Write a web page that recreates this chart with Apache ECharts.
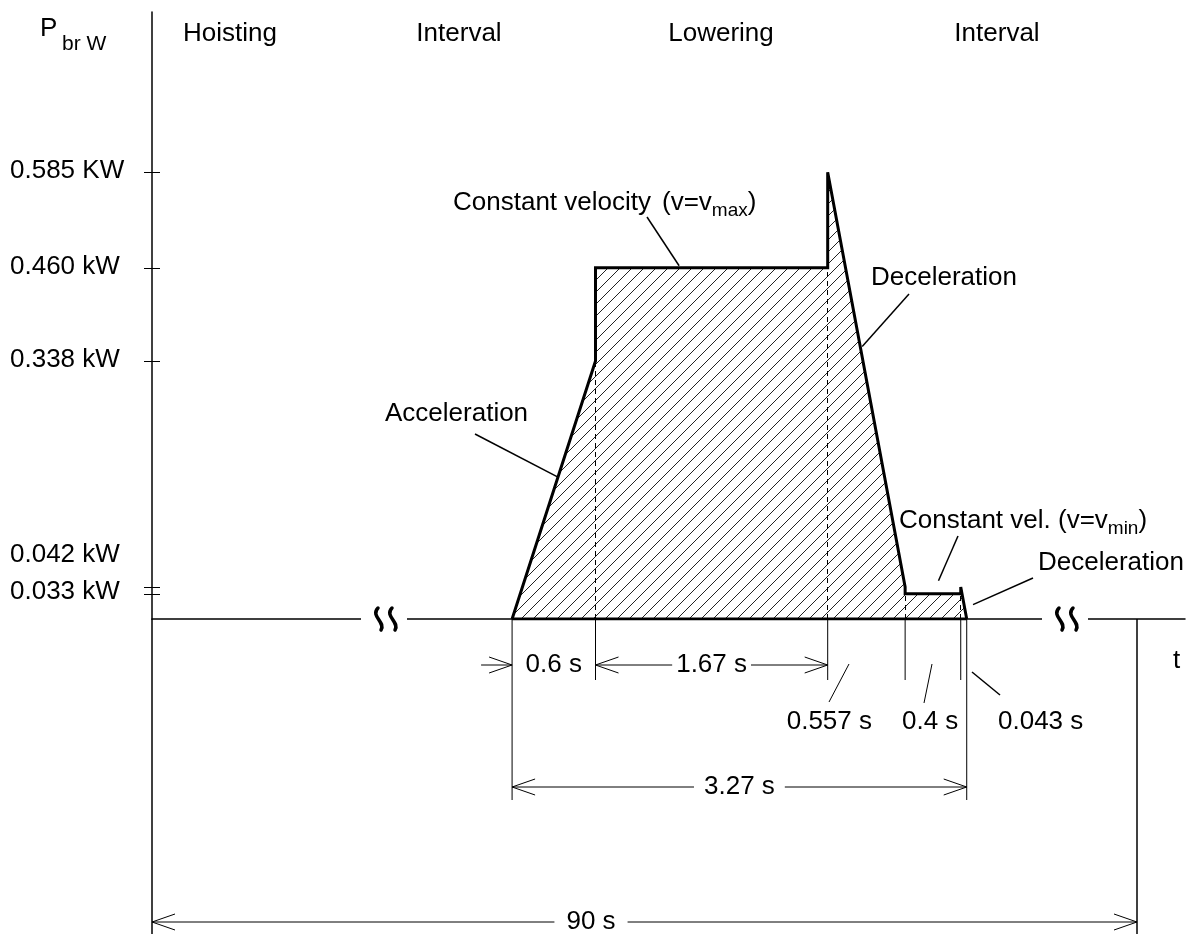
<!DOCTYPE html>
<html><head><meta charset="utf-8">
<script src="https://cdn.jsdelivr.net/npm/echarts@6/dist/echarts.min.js"></script>
<style>html,body{margin:0;padding:0;background:#fff}#c{width:1189px;height:934px}</style>
</head><body><div id="c"></div>
<script>
// ---------- data ----------
const phaseLabels = ['Hoisting', 'Interval', 'Lowering', 'Interval'];
const segmentNames = ['Acceleration', 'Constant velocity', 'Deceleration', 'Constant vel.', 'Deceleration'];
const segmentDurations = [0.6, 1.67, 0.557, 0.4, 0.043];      // s
const segmentStartPower = [0, 0.460, 0.585, 0.033, 0.042];    // kW
const segmentEndPower = [0.338, 0.460, 0.042, 0.033, 0];      // kW
const durationLabels = ['0.6 s', '1.67 s', '0.557 s', '0.4 s', '0.043 s'];
const loweringTotalLabel = '3.27 s';
const cycleLabel = '90 s';
const yTickValues = [0.585, 0.460, 0.338, 0.042, 0.033];
const yTickLabels = ['0.585 KW', '0.460 kW', '0.338 kW', '0.042 kW', '0.033 kW'];

// ---------- derived ----------
const bounds = [0];
segmentDurations.forEach(d => bounds.push(+(bounds[bounds.length - 1] + d).toFixed(4)));
const profile = [];
segmentDurations.forEach((d, i) => {
  profile.push([bounds[i], segmentStartPower[i]]);
  profile.push([bounds[i + 1], segmentEndPower[i]]);
});
const dashed = [];
for (let i = 1; i < segmentDurations.length; i++) {
  dashed.push([{ coord: [bounds[i], 0] }, { coord: [bounds[i], Math.min(segmentEndPower[i - 1], segmentStartPower[i])] }]);
}

function hatch() {
  const s = 12, c = document.createElement('canvas');
  c.width = c.height = s;
  const g = c.getContext('2d');
  g.strokeStyle = '#222'; g.lineWidth = 1;
  g.beginPath();
  g.moveTo(0, s); g.lineTo(s, 0);
  g.moveTo(-s / 2, s / 2); g.lineTo(s / 2, -s / 2);
  g.moveTo(s / 2, s * 1.5); g.lineTo(s * 1.5, s / 2);
  g.stroke();
  return c;
}

const FONT = '"Liberation Sans", Arial, sans-serif';
const chart = echarts.init(document.getElementById('c'), null, { renderer: 'canvas' });
chart.setOption({
  animation: false,
  backgroundColor: '#fff',
  grid: { left: 152, right: 4, top: 12, bottom: 315 },
  xAxis: {
    type: 'value', min: -2.59, max: 4.84,
    axisLine: { show: true, onZero: false, lineStyle: { color: '#000', width: 1.5 } },
    axisTick: { show: false }, axisLabel: { show: false }, splitLine: { show: false }
  },
  yAxis: [{
    type: 'value', min: 0, max: 0.795,
    axisLine: { show: true, onZero: false, lineStyle: { color: '#000', width: 1.5 } },
    axisTick: { show: true, customValues: yTickValues, length: 8, lineStyle: { color: '#000', width: 1 } },
    axisLabel: { show: false }, splitLine: { show: false }
  }, {
    type: 'value', min: 0, max: 0.795, position: 'left',
    axisLine: { show: false, onZero: false },
    axisTick: { show: true, inside: true, customValues: yTickValues, length: 8, lineStyle: { color: '#000', width: 1 } },
    axisLabel: { show: false }, splitLine: { show: false }
  }],
  series: [{
    name: 'Braking power', type: 'line', data: profile, symbol: 'none', z: 3,
    lineStyle: { color: '#000', width: 3, join: 'miter' },
    areaStyle: { color: { image: hatch(), repeat: 'repeat' }, opacity: 1 }
  }, {
    name: 'base', type: 'line', data: [[bounds[0], 0], [bounds[bounds.length - 1], 0]], symbol: 'none', z: 4,
    lineStyle: { color: '#000', width: 3 },
    markLine: {
      silent: true, symbol: ['none', 'none'], label: { show: false },
      lineStyle: { color: '#000', width: 1, type: [5, 4] }, data: dashed
    }
  }]
});

// ---------- annotations ----------
const px = (t, p) => chart.convertToPixel({ gridIndex: 0 }, [t, p]);
const bx = bounds.map(b => px(b, 0)[0]);
const y0 = px(0, 0)[1];
const mctx = document.createElement('canvas').getContext('2d');
const tw = (s, size) => { mctx.font = size + 'px ' + FONT; return mctx.measureText(s).width; };
const G = [];
const line = (x1, y1, x2, y2, w = 1) => G.push({ type: 'line', z: 100, shape: { x1, y1, x2, y2 }, style: { stroke: '#000', lineWidth: w } });
const text = (s, x, y, size = 26, align = 'left') => G.push({ type: 'text', z: 100, x, y, style: { text: s, font: size + 'px ' + FONT, fill: '#000', align, verticalAlign: 'middle' } });
const arrow = (x, y, dir) => G.push({ type: 'polyline', z: 100, shape: { points: [[x - dir * 23, y - 8], [x, y], [x - dir * 23, y + 8]] }, style: { stroke: '#000', lineWidth: 1, fill: null } });
const segPt = (i, f) => px(bounds[i] + f * segmentDurations[i], segmentStartPower[i] + f * (segmentEndPower[i] - segmentStartPower[i]));

// axis breaks
[385, 1066].forEach(cx => {
  G.push({ type: 'rect', z: 100, shape: { x: cx - 24, y: y0 - 4, width: 46, height: 8 }, style: { fill: '#fff' } });
  [-6, 8].forEach(dx => {
    const x = cx + dx;
    G.push({ type: 'bezierCurve', z: 101, shape: { x1: x - 1, y1: y0 - 11, cpx1: x - 9, cpy1: y0 - 3, cpx2: x + 7, cpy2: y0 + 3, x2: x + 2, y2: y0 + 11 }, style: { stroke: '#000', lineWidth: 3.5, fill: null, lineCap: 'round' } });
  });
});
// axis extensions / end of cycle
line(152, y0, 152, 934, 1.5);
line(1137, y0, 1137, 934, 1.5);
text('t', 1173, 661);

// header
const headerX = [230, 459, 721, 997];
phaseLabels.forEach((s, i) => text(s, headerX[i], 34, 26, 'center'));
text('P', 40, 29);
text('br W', 62, 44, 21);

// y tick labels
const labelDy = [-2, -1, -1, -32, -2];
yTickValues.forEach((v, i) => text(yTickLabels[i], 10, px(0, v)[1] + labelDy[i]));

// segment annotations
text(segmentNames[0], 385, 414);
let p = segPt(0, 0.55); line(475, 434, p[0], p[1], 1.5);

text(segmentNames[1], 453, 203);
let x = 662; text('(v=v', x, 203); x += tw('(v=v', 26);
text('max', x, 211, 19); x += tw('max', 19); text(')', x, 203);
p = segPt(1, 0.36); line(647, 217, p[0], p[1] - 2, 1.5);

text(segmentNames[2], 871, 278);
p = segPt(2, 0.42); line(909, 294, p[0] + 2, p[1], 1.5);

x = 899; text(segmentNames[3] + ' (v=v', x, 521); x += tw(segmentNames[3] + ' (v=v', 26);
text('min', x, 529, 19); x += tw('min', 19); text(')', x, 521);
p = segPt(3, 0.6); line(958, 536, p[0], p[1] - 13, 1.5);

text(segmentNames[4], 1038, 563);
p = segPt(4, 0.55); line(1033, 578, p[0] + 9, p[1], 1.5);

// dimensions
const d1 = 665, d2 = 787, d3 = 922;
[1, 2, 3, 4].forEach(i => line(bx[i], y0, bx[i], 680, 1));
[0, 5].forEach(i => line(bx[i], y0, bx[i], 800, 1));
// 0.6 s
line(bx[0] - 31, d1, bx[0], d1); arrow(bx[0], d1, 1);
text(durationLabels[0], (bx[0] + bx[1]) / 2, d1, 26, 'center');
// 1.67 s
let mid = (bx[1] + bx[2]) / 2, w = tw(durationLabels[1], 26) / 2 + 4;
arrow(bx[1], d1, -1); line(bx[1], d1, mid - w, d1); line(mid + w, d1, bx[2], d1); arrow(bx[2], d1, 1);
text(durationLabels[1], mid, d1, 26, 'center');
// 0.557, 0.4, 0.043 s with leaders
text(durationLabels[2], 872, 722, 26, 'right'); line(849, 664, 829, 702, 1);
text(durationLabels[3], 902, 722); line(932, 664, 924, 703, 1);
text(durationLabels[4], 998, 722); line(972, 672, 1000, 695, 1.5);
// 3.27 s
mid = (bx[0] + bx[5]) / 2; w = tw(loweringTotalLabel, 26) / 2 + 10;
arrow(bx[0], d2, -1); line(bx[0], d2, mid - w, d2); line(mid + w, d2, bx[5], d2); arrow(bx[5], d2, 1);
text(loweringTotalLabel, mid, d2, 26, 'center');
// 90 s
mid = 591; w = tw(cycleLabel, 26) / 2 + 12;
arrow(152, d3, -1); line(152, d3, mid - w, d3); line(mid + w, d3, 1137, d3); arrow(1137, d3, 1);
text(cycleLabel, mid, d3, 26, 'center');

chart.setOption({ graphic: { elements: G } });
</script>
</body></html>
